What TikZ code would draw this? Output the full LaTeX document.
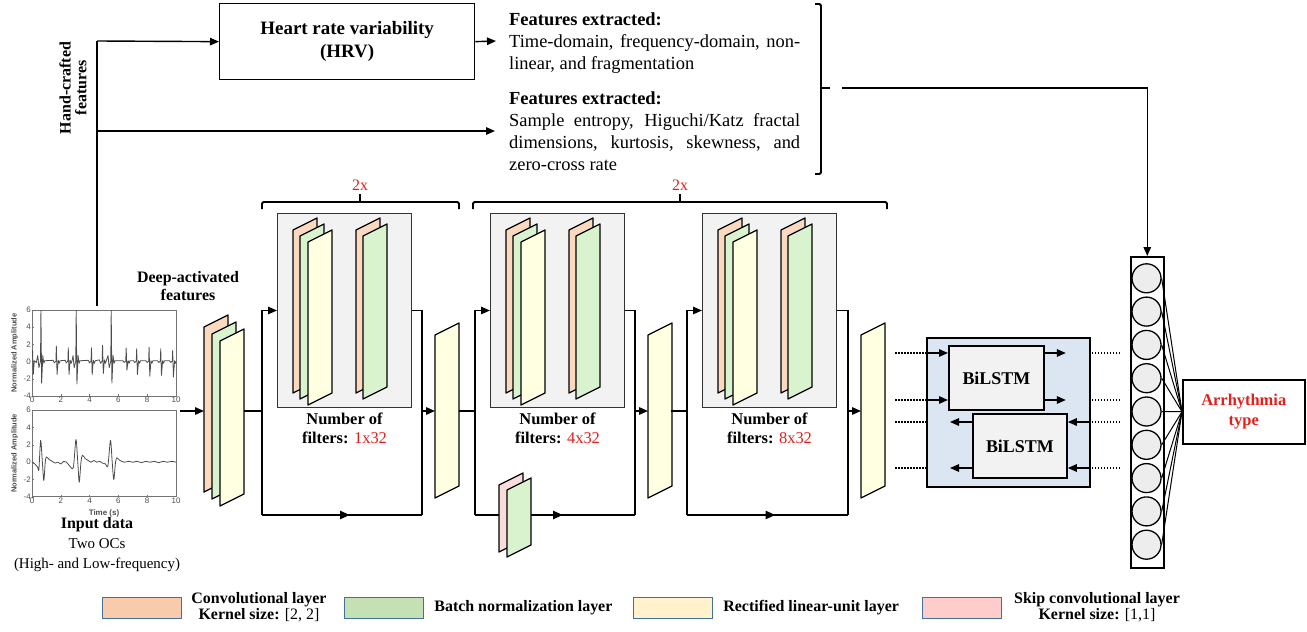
\documentclass[tikz,border=0pt]{standalone}
\usepackage{fontspec}
\setmainfont{Liberation Serif}
\setsansfont{Liberation Sans}
\usetikzlibrary{arrows.meta,positioning,decorations.markings}

\definecolor{convfill}{HTML}{FBD9BF}
\definecolor{bnfill}{HTML}{D9F3CF}
\definecolor{relufill}{HTML}{FFFFE1}
\definecolor{skipfill}{HTML}{FADCDC}
\definecolor{keyconv}{HTML}{F8CBAD}
\definecolor{keybn}{HTML}{C5E0B4}
\definecolor{keyrelu}{HTML}{FFF2CC}
\definecolor{keyskip}{HTML}{FFCCCC}
\definecolor{keyedge}{HTML}{41719C}
\definecolor{panelgray}{HTML}{F2F2F2}
\definecolor{lstmblue}{HTML}{DCE6F2}
\definecolor{repred}{HTML}{E3201B}

% one feature map, drawn as a slanted sheet
\newcommand{\slab}[4][163]{%
  \draw[slabedge,fill=#4] (#2,#3) -- ++(24,-12) -- ++(0,#1) -- ++(-24,12) -- cycle;}

\begin{document}
\begin{tikzpicture}[x=1bp,y=-1bp,
  conn/.style={line width=1.4bp},
  arr/.style={conn,-{Triangle[length=9bp,width=7.5bp]}},
  skipline/.style={line width=2.4bp,postaction={decorate},
    decoration={markings,mark=at position 0.55 with {\arrow{Triangle[length=10bp,width=8bp]}}}},
  dotline/.style={line width=1.6bp,dash pattern=on 1.5bp off 1.5bp},
  slabedge/.style={line width=1.3bp,line join=round},
  bracket/.style={line width=1.8bp,rounded corners=1.5bp},
  blockbg/.style={draw=black!80,line width=1bp,fill=panelgray,inner sep=0,anchor=north west,minimum width=134bp,minimum height=194bp},
  lstmbox/.style={draw,line width=1.8bp,fill=panelgray,inner sep=0,anchor=north west,minimum width=95bp,minimum height=64bp,font=\fontsize{18}{20}\selectfont\bfseries},
  neuron/.style={draw,circle,line width=1.3bp,fill=black!7,minimum size=29bp,inner sep=0},
  fanline/.style={line width=1bp},
  keybox/.style={draw=keyedge,line width=1.2bp,inner sep=0,anchor=north west,minimum width=79bp,minimum height=21bp},
  keytext/.style={inner sep=0,align=center,font=\fontsize{16}{14.5}\selectfont\bfseries},
  headtext/.style={inner sep=0,align=center,font=\fontsize{16}{18}\selectfont\bfseries},
  feattext/.style={inner sep=0,anchor=north west,text width=291bp,align=justify,font=\fontsize{18.5}{22}\selectfont},
  reptext/.style={inner sep=0,text=repred,font=\fontsize{16}{18}\selectfont},
  filtertext/.style={inner sep=0,align=center,font=\fontsize{16.5}{19}\selectfont\bfseries},
  plotframe/.style={draw=black!55,line width=0.5bp,inner sep=0,anchor=north west,minimum width=144bp,minimum height=86bp},
  ticklbl/.style={inner sep=1bp,text=black!70,font=\sffamily\fontsize{8}{9}\selectfont},
  sig/.style={black!70,line width=0.8bp,line join=round}
]
\useasboundingbox (0,0) rectangle (1307,632);

%% hand-crafted branch
\node[headtext,rotate=90,font=\fontsize{16}{16}\selectfont\bfseries] (hand) at (73,88) {Hand-crafted\\features};
\node[draw,line width=1.3bp,inner sep=0,anchor=north west,minimum width=255bp,minimum height=76bp,
  align=center,font=\fontsize{19}{23}\selectfont\bfseries] (hrv) at (219,3) {Heart rate variability\\(HRV)};
\coordinate (split) at (97,41);
\coordinate (tapdown) at (97,306);
\coordinate (tapmid) at (97,131);
\coordinate (featinA) at (496,41);
\coordinate (featinB) at (495,131);
\draw[conn] (tapdown) -- (split);
\draw[arr] (split) -- (hrv.west);
\draw[arr] (hrv.east) -- (featinA);
\draw[arr] (tapmid) -- (featinB);

\node[feattext] (featA) at (509,12.5) {\textbf{Features extracted:}\\
  Time-domain, frequency-domain, non-\linebreak linear, and fragmentation};
\node[feattext] (featB) at (509,91.5) {\textbf{Features extracted:}\\
  Sample entropy, Higuchi/Katz fractal\linebreak dimensions, kurtosis, skewness, and\linebreak zero-cross rate};

\draw[bracket] (815,4) -- (821,4) -- (821,174) -- (815,174);
\coordinate (brtip) at (830,88);
\draw[bracket] (821,88) -- (brtip);
\coordinate (hcin) at (842,88);

%% input signals
\node[plotframe] (hiplot) at (32,310) {};
\node[plotframe] (loplot) at (32,410) {};
\begin{scope}[shift={(32,361.6)},x=14.4bp,y=8.6bp]
  \foreach \v in {-4,-2,...,6} {
    \draw[black!55,line width=0.4bp] (0,\v) -- (0.12,\v);
    \node[ticklbl,anchor=east] at (0,\v) {\v};}
  \foreach \v in {0,2,...,10} {
    \draw[black!55,line width=0.4bp] (\v,-4) -- (\v,-3.8);
    \node[ticklbl,anchor=north] at (\v,-4) {\v};}
  \node[ticklbl,rotate=90,font=\sffamily\bfseries\fontsize{7.5}{8}\selectfont] at (-1.2,1) {Normalized Amplitude};
  \begin{scope}
    \clip (0,-4) rectangle (10,6);
    \draw[sig] (0,0.6) -- (0.04,1.3) -- (0.09,-1.5) -- (0.16,0.1) -- (0.3,-0.1)
      \foreach \t/\p/\q/\w in {0.62/6/-2.5/0.7,1.69/1.8/-1.5/0.15,2.52/1.6/-1.5/0.15,
        3.07/6/-2.6/0.7,4.13/1.6/-1.5/0.15,4.90/1.9/-1.4/0.2,5.50/6/-2.5/0.7,
        6.54/1.6/-1.0/0.1,7.27/1.5/-1.5/0.1,8.13/1.7/-1.7/0.1,8.94/1.5/-1.6/0.1,9.77/1.3/-1.8/0.1}
      { -- (\t-0.22,\w) -- (\t-0.14,-\w) -- (\t-0.03,0.05) -- (\t,\p) -- (\t+0.05,\q)
        -- (\t+0.13,\w) -- (\t+0.2,-0.2) -- (\t+0.26,0.1)};
  \end{scope}
\end{scope}
\begin{scope}[shift={(32,462.2)},x=14.4bp,y=8.7bp]
  \foreach \v in {-4,-2,...,6} {
    \draw[black!55,line width=0.4bp] (0,\v) -- (0.12,\v);
    \node[ticklbl,anchor=east] at (0,\v) {\v};}
  \foreach \v in {0,2,...,10} {
    \draw[black!55,line width=0.4bp] (\v,-4) -- (\v,-3.8);
    \node[ticklbl,anchor=north] at (\v,-4) {\v};}
  \node[ticklbl,rotate=90,font=\sffamily\bfseries\fontsize{7.5}{8}\selectfont] at (-1.2,1) {Normalized Amplitude};
  \node[ticklbl,font=\sffamily\bfseries\fontsize{8}{9}\selectfont] at (5,-5.9) {Time (s)};
  \draw[sig] plot[smooth,tension=0.5] coordinates {(0,0) (0.2,-0.2) (0.4,-0.6) (0.48,-0.8) (0.6,2.5)
    (0.72,0) (0.82,-2.1) (0.92,0) (1.0,0.6) (1.2,0.3) (1.4,0.1) (1.6,-0.1) (1.8,0) (2.0,-0.2)
    (2.2,0.1) (2.4,0) (2.6,-0.4) (2.87,-0.6) (3.05,2.6) (3.18,0) (3.28,-2.3) (3.4,0) (3.5,0.8)
    (3.7,0.4) (3.9,0.2) (4.1,0) (4.3,0.2) (4.5,0) (4.7,0.1) (4.9,-0.1) (5.1,-0.2) (5.27,-0.4)
    (5.45,2.5) (5.57,0) (5.68,-2) (5.8,0) (5.9,0.5) (6.1,0.2) (6.4,0) (6.7,0.1) (7,0) (7.3,0.1)
    (7.6,-0.05) (7.9,0.1) (8.2,0) (8.5,0.1) (8.8,-0.05) (9.1,0.1) (9.4,0) (9.7,0.1) (10,0)};
\end{scope}
\node[inner sep=0,align=center,font=\fontsize{15}{20}\selectfont] (indata) at (97,545)
  {{\bfseries\fontsize{16}{20}\selectfont Input data}\\Two OCs\\(High- and Low-frequency)};

%% deep-activated features
\node[headtext] (deep) at (188,286) {Deep-activated\\features};
\coordinate (sigout) at (180,411);
\coordinate (deepin) at (204,411);
\draw[arr] (sigout) -- (deepin);
\slab[165]{204}{327}{convfill}
\slab[165]{212}{334}{bnfill}
\slab[165]{220}{341}{relufill}

%% residual block 1
\node[blockbg] (res1) at (277,213) {};
\slab{293}{230}{convfill}
\slab{300}{236}{bnfill}
\slab{308}{242}{relufill}
\slab{356}{230}{convfill}
\slab{363}{236}{bnfill}
\node[filtertext,below=5bp of res1] (nf1) {Number of\\filters: \textmd{\textcolor{repred}{1x32}}};
\coordinate (deepout) at (244,411);
\coordinate (res1in) at (262,411);
\coordinate (res1bl) at (262,515);
\coordinate (res1br) at (422,515);
\coordinate (res1out) at (422,411);
\coordinate (relu1in) at (435,411);
\draw[conn] (deepout) -- (res1in);
\draw[arr] (res1in) |- (res1.west);
\draw[conn] (res1in) -- (res1bl);
\draw[skipline] (res1bl) -- (res1br);
\draw[conn] (res1.east) -| (res1br);
\draw[arr] (res1out) -- (relu1in);
\slab{435}{335}{relufill}

%% residual block 2
\node[blockbg] (res2) at (490,213) {};
\slab{506}{230}{convfill}
\slab{513}{236}{bnfill}
\slab{521}{242}{relufill}
\slab{569}{230}{convfill}
\slab{576}{236}{bnfill}
\node[filtertext,below=5bp of res2] (nf2) {Number of\\filters: \textmd{\textcolor{repred}{4x32}}};
\coordinate (relu1out) at (459,411);
\coordinate (res2in) at (475,411);
\coordinate (res2bl) at (475,515);
\coordinate (res2br) at (635,515);
\coordinate (res2out) at (635,411);
\coordinate (relu2in) at (648,411);
\draw[conn] (relu1out) -- (res2in);
\draw[arr] (res2in) |- (res2.west);
\draw[conn] (res2in) -- (res2bl);
\draw[skipline] (res2bl) -- (res2br);
\draw[conn] (res2.east) -| (res2br);
\draw[arr] (res2out) -- (relu2in);
\slab[67]{499}{485}{skipfill}
\slab[67]{507}{490}{bnfill}
\slab{648}{335}{relufill}

%% residual block 3
\node[blockbg] (res3) at (702,213) {};
\slab{718}{230}{convfill}
\slab{725}{236}{bnfill}
\slab{733}{242}{relufill}
\slab{781}{230}{convfill}
\slab{788}{236}{bnfill}
\node[filtertext,below=5bp of res3] (nf3) {Number of\\filters: \textmd{\textcolor{repred}{8x32}}};
\coordinate (relu2out) at (671,411);
\coordinate (res3in) at (687,411);
\coordinate (res3bl) at (687,515);
\coordinate (res3br) at (848,515);
\coordinate (res3out) at (848,411);
\coordinate (relu3in) at (861,411);
\draw[conn] (relu2out) -- (res3in);
\draw[arr] (res3in) |- (res3.west);
\draw[conn] (res3in) -- (res3bl);
\draw[skipline] (res3bl) -- (res3br);
\draw[conn] (res3.east) -| (res3br);
\draw[arr] (res3out) -- (relu3in);
\slab{861}{335}{relufill}

%% repeat brackets
\draw[bracket] (262,209) -- (262,202) -- (459,202) -- (459,209);
\coordinate (brace1) at (360,194);
\draw[bracket] (360,202) -- (brace1);
\node[reptext,above=3bp of brace1] (rep1) {2x};
\draw[bracket] (473,209) -- (473,202) -- (887,202) -- (887,209);
\coordinate (brace2) at (680,194);
\draw[bracket] (680,202) -- (brace2);
\node[reptext,above=3bp of brace2] (rep2) {2x};

%% BiLSTM layer
\node[draw,fill=lstmblue,line width=1.6bp,inner sep=0,anchor=north west,minimum width=163bp,minimum height=149bp] (bilayer) at (926,337) {};
\node[lstmbox] (fwd) at (948,345) {BiLSTM};
\node[lstmbox,minimum width=94bp] (bwd) at (972,413) {BiLSTM};
\coordinate (rowA) at (895,353);
\coordinate (rowB) at (895,400);
\coordinate (rowC) at (895,422);
\coordinate (rowD) at (895,468);
\coordinate (rowAr) at (1120,353);
\coordinate (rowBr) at (1120,400);
\coordinate (rowCr) at (1120,422);
\coordinate (rowDr) at (1120,468);
\draw[dotline] (rowA) -- (bilayer.west |- rowA);
\draw[dotline] (rowB) -- (bilayer.west |- rowB);
\draw[dotline] (rowC) -- (bilayer.west |- rowC);
\draw[dotline] (rowD) -- (bilayer.west |- rowD);
\draw[dotline] (rowAr) -- +(-28,0);
\draw[dotline] (rowBr) -- +(-28,0);
\draw[dotline] (rowCr) -- +(-28,0);
\draw[dotline] (rowDr) -- +(-28,0);
\draw[arr] (bilayer.west |- rowA) -- (fwd.west |- rowA);
\draw[arr] (bilayer.west |- rowB) -- (fwd.west |- rowB);
\draw[arr] (fwd.east |- rowA) -- +(21,0);
\draw[arr] (fwd.east |- rowB) -- +(21,0);
\draw[arr] (bwd.west |- rowC) -- +(-22,0);
\draw[arr] (bwd.west |- rowD) -- +(-22,0);
\draw[arr] (bilayer.east |- rowC) -- (bwd.east |- rowC);
\draw[arr] (bilayer.east |- rowD) -- (bwd.east |- rowD);

%% dense layer and output
\node[draw,line width=1.5bp,inner sep=0,anchor=north west,minimum width=33bp,minimum height=311bp] (col) at (1130,256) {};
\node[neuron] (n1) at (1146.5,278.3) {};
\node[neuron] (n2) at (1146.5,311.6) {};
\node[neuron] (n3) at (1146.5,344.9) {};
\node[neuron] (n4) at (1146.5,378.2) {};
\node[neuron] (n5) at (1146.5,411.5) {};
\node[neuron] (n6) at (1146.5,444.8) {};
\node[neuron] (n7) at (1146.5,478.1) {};
\node[neuron] (n8) at (1146.5,511.4) {};
\node[neuron] (n9) at (1146.5,544.7) {};
\draw[arr] (hcin) -| (col.north);
\node[draw,line width=1.5bp,inner sep=0,anchor=north west,minimum width=122bp,minimum height=64bp,align=center,
  text=repred,font=\fontsize{16.5}{19.5}\selectfont\bfseries] (out) at (1182,379) {Arrhythmia\\type};
\draw[fanline] (n1.east) -- (out.west);
\draw[fanline] (n2.east) -- (out.west);
\draw[fanline] (n3.east) -- (out.west);
\draw[fanline] (n4.east) -- (out.west);
\draw[fanline] (n5.east) -- (out.west);
\draw[fanline] (n6.east) -- (out.west);
\draw[fanline] (n7.east) -- (out.west);
\draw[fanline] (n8.east) -- (out.west);
\draw[fanline] (n9.east) -- (out.west);

%% legend
\node[keybox,fill=keyconv] (keyconv) at (102,597) {};
\node[keytext] (txtconv) at (259,607) {Convolutional layer\\Kernel size: \textmd{[2, 2]}};
\node[keybox,fill=keybn] (keybn) at (344,597) {};
\node[keytext,right=10bp of keybn] (txtbn) {Batch normalization layer};
\node[keybox,fill=keyrelu] (keyrelu) at (633,597) {};
\node[keytext,right=10bp of keyrelu] (txtrelu) {Rectified linear-unit layer};
\node[keybox,fill=keyskip] (keyskip) at (922,597) {};
\node[keytext] (txtskip) at (1097,607) {Skip convolutional layer\\Kernel size: \textmd{[1,1]}};
\end{tikzpicture}
\end{document}
